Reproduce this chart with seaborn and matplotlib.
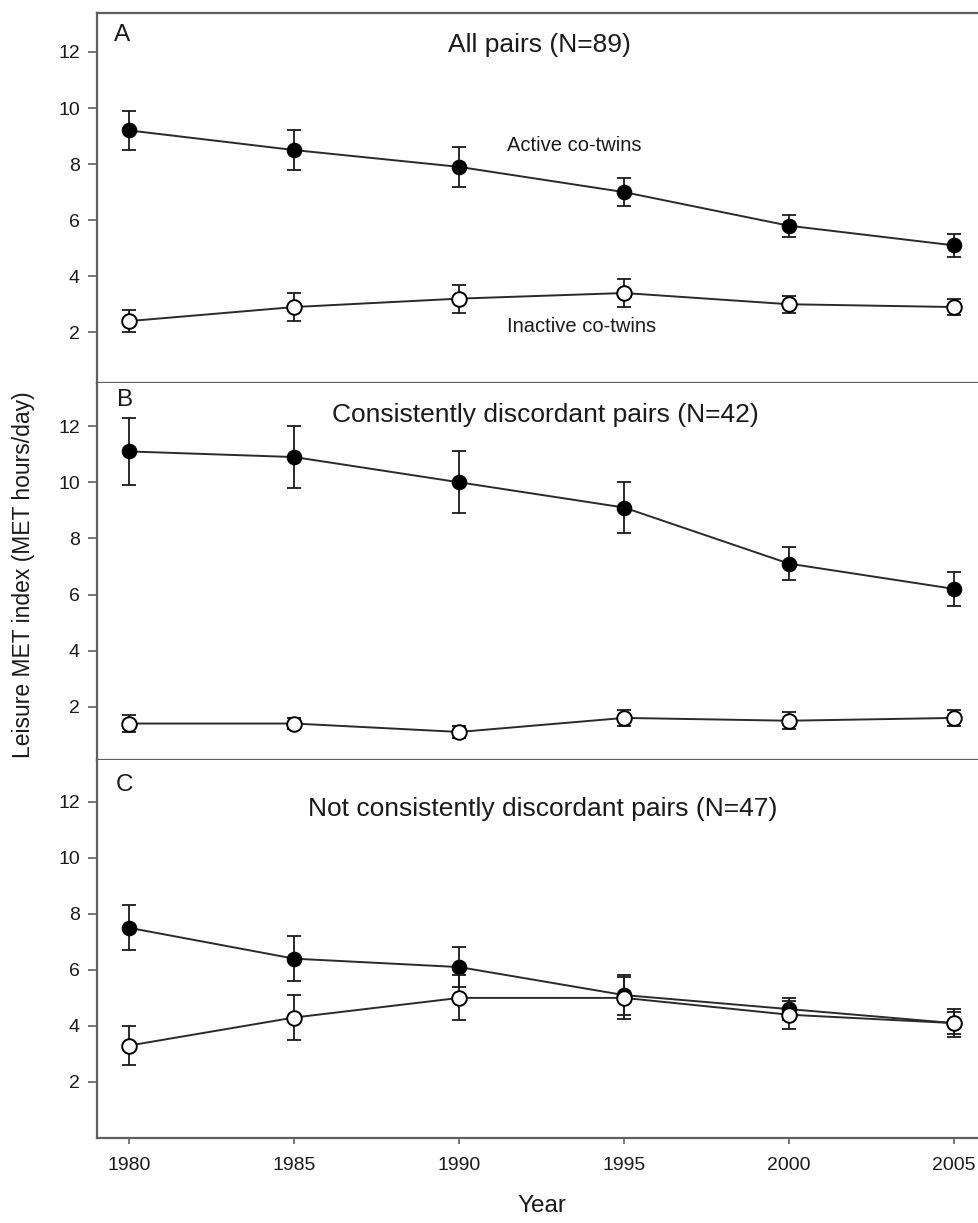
import matplotlib
matplotlib.use("Agg")
import matplotlib.pyplot as plt
import seaborn as sns
import pandas as pd

years = [1980, 1985, 1990, 1995, 2000, 2005]

# panel A: all pairs
a_active = [9.2, 8.5, 7.9, 7.0, 5.8, 5.1]
a_active_se = [0.7, 0.7, 0.7, 0.5, 0.4, 0.4]
a_inactive = [2.4, 2.9, 3.2, 3.4, 3.0, 2.9]
a_inactive_se = [0.4, 0.5, 0.5, 0.5, 0.3, 0.3]

# panel B: consistently discordant
b_active = [11.1, 10.9, 10.0, 9.1, 7.1, 6.2]
b_active_se = [1.2, 1.1, 1.1, 0.9, 0.6, 0.6]
b_inactive = [1.4, 1.4, 1.1, 1.6, 1.5, 1.6]
b_inactive_se = [0.3, 0.2, 0.2, 0.3, 0.3, 0.3]

# panel C: not consistently discordant
c_active = [7.5, 6.4, 6.1, 5.1, 4.6, 4.1]
c_active_se = [0.8, 0.8, 0.7, 0.7, 0.4, 0.4]
c_inactive = [3.3, 4.3, 5.0, 5.0, 4.4, 4.1]
c_inactive_se = [0.7, 0.8, 0.8, 0.75, 0.5, 0.5]

titles = ["All pairs (N=89)",
          "Consistently discordant pairs (N=42)",
          "Not consistently discordant pairs (N=47)"]
letters = ["A", "B", "C"]
yticks = [2, 4, 6, 8, 10, 12]

sns.set_theme(style="white")
plt.rcParams["font.family"] = ["Liberation Sans", "DejaVu Sans"]

W, H = 979, 1223
fig = plt.figure(figsize=(W / 100, H / 100), dpi=100)

spine_col = "#606060"
txt_col = "#1a1a1a"
left = 97 / W
width = (982 - 97) / W
# (top_px, bottom_px, ylim, title pos, letter pos)
panels = [
    (13, 383, (0.19, 13.39), (0.500, 0.913), (0.028, 0.940)),
    (383, 760, (0.10, 13.54), (0.507, 0.915), (0.032, 0.954)),
    (760, 1138, (0.0, 13.49), (0.504, 0.870), (0.031, 0.935)),
]
series = [
    (a_active, a_active_se, a_inactive, a_inactive_se),
    (b_active, b_active_se, b_inactive, b_inactive_se),
    (c_active, c_active_se, c_inactive, c_inactive_se),
]

axes = []
for i, (top, bot, ylim, tpos, lpos) in enumerate(panels):
    ax = fig.add_axes([left, 1 - bot / H, width, (bot - top) / H])
    axes.append(ax)
    act, act_se, ina, ina_se = series[i]
    df = pd.DataFrame({"year": years, "active": act, "inactive": ina})

    ax.errorbar(years, act, yerr=act_se, fmt="none", ecolor="#1a1a1a",
                elinewidth=1.3, capsize=5, capthick=1.3, zorder=2)
    sns.lineplot(data=df, x="year", y="active", ax=ax, color="#2a2a2a",
                 lw=1.4, marker="o", markersize=10.5, markerfacecolor="black",
                 markeredgecolor="black", zorder=3)
    ax.errorbar(years, ina, yerr=ina_se, fmt="none", ecolor="#1a1a1a",
                elinewidth=1.3, capsize=5, capthick=1.3, zorder=4)
    sns.lineplot(data=df, x="year", y="inactive", ax=ax, color="#2a2a2a",
                 lw=1.4, marker="o", markersize=10.5, markerfacecolor="white",
                 markeredgecolor="black", markeredgewidth=1.4, zorder=5)

    ax.set_xlim(1979.02, 2005.85)
    ax.set_ylim(*ylim)
    ax.set_yticks(yticks)
    ax.set_xlabel("")
    ax.set_ylabel("")
    ax.tick_params(axis="y", left=True, length=6.3, width=1.2,
                   color=spine_col, labelsize=14, labelcolor=txt_col, pad=6)
    for s in ["left", "top", "bottom"]:
        ax.spines[s].set_color(spine_col)
        ax.spines[s].set_linewidth(1.6)
    ax.spines["right"].set_visible(False)
    if i > 0:
        ax.spines["top"].set_visible(False)
    if i < 2:
        ax.set_xticks([])
    else:
        ax.set_xticks(years)
        ax.tick_params(axis="x", bottom=True, length=4.5, width=1.2,
                       color=spine_col, labelsize=14, labelcolor=txt_col, pad=9)

    ax.text(tpos[0], tpos[1], titles[i], transform=ax.transAxes,
            ha="center", va="center", fontsize=19, color=txt_col)
    ax.text(lpos[0], lpos[1], letters[i], transform=ax.transAxes,
            ha="center", va="center", fontsize=17.5, color=txt_col)

axes[0].text(1991.44, 8.65, "Active co-twins", ha="left", va="center",
             fontsize=14.5, color=txt_col)
axes[0].text(1991.44, 2.2, "Inactive co-twins", ha="left", va="center",
             fontsize=14.5, color=txt_col)

fig.text(24 / W, 1 - 575 / H, "Leisure MET index (MET hours/day)",
         rotation=90, ha="center", va="center", fontsize=16.5, color=txt_col)
fig.text(542 / W, 1 - 1206 / H, "Year", ha="center", va="center",
         fontsize=17.5, color=txt_col)

fig.savefig("out.png", dpi=100)
